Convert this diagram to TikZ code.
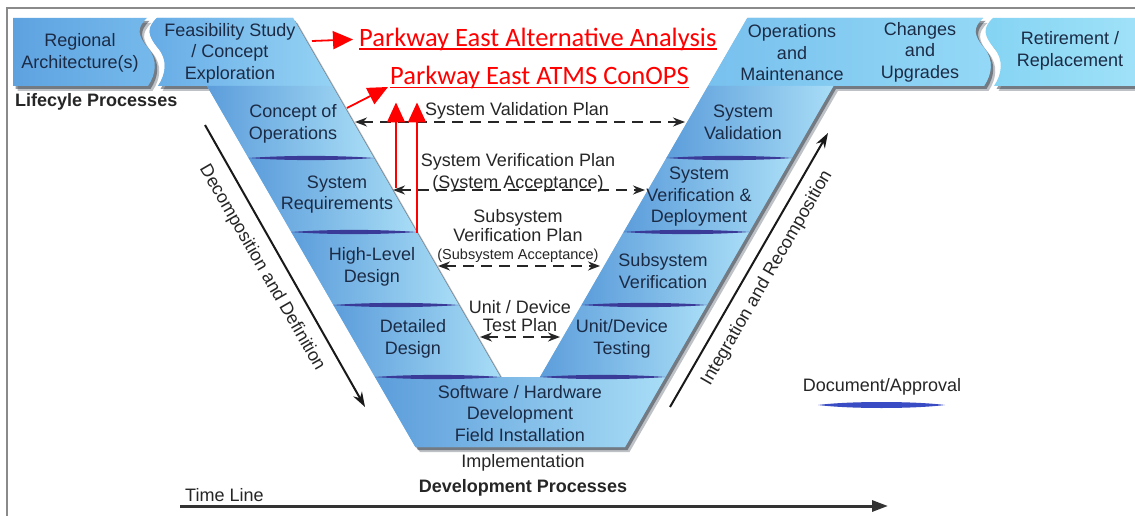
\documentclass[tikz,border=0pt]{standalone}
\usepackage{fontspec}
\setmainfont{Liberation Sans}
\newfontfamily\calfont{Carlito}
\usetikzlibrary{arrows.meta}

\definecolor{labc}{HTML}{1C2B45}
\definecolor{txtc}{HTML}{262626}
\definecolor{armL}{HTML}{5C9DDB}
\definecolor{armR}{HTML}{A8DDF6}
\definecolor{feaL}{HTML}{66ABE6}
\definecolor{feaR}{HTML}{95D3F4}
\definecolor{opsL}{HTML}{78C0EE}
\definecolor{opsR}{HTML}{94D9F6}
\definecolor{regL}{HTML}{5EA3E0}
\definecolor{regR}{HTML}{76BAEC}
\definecolor{retL}{HTML}{84D3F3}
\definecolor{retR}{HTML}{A0E2F8}
\definecolor{basec}{HTML}{7DBDEA}
\definecolor{sepc}{HTML}{3A3A98}
\definecolor{legc}{HTML}{3A4CC4}
\definecolor{shc}{HTML}{2A3440}
\definecolor{framec}{HTML}{8A8A8A}
\definecolor{redc}{HTML}{FF0000}

\newcommand\pathV{(157,18) -- (293,18) -- (500.3,377) -- (540,377) -- (747.3,18) -- (983,18) .. controls (972,28) and (974,36) .. (984,48) .. controls (994,60) and (992,74) .. (984,86) -- (833.4,86) -- (625,447) -- (415.4,447) -- (207,86) -- (158,86) .. controls (166,74) and (168,60) .. (158,48) .. controls (148,36) and (146,28) .. (157,18) -- cycle}
\newcommand\pathReg{(13,18) -- (147,18) .. controls (136,28) and (138,36) .. (148,48) .. controls (158,60) and (156,74) .. (148,86) -- (13,86) -- cycle}
\newcommand\pathRet{(993,18) -- (1140,18) -- (1140,86) -- (994,86) .. controls (1002,74) and (1004,60) .. (994,48) .. controls (984,36) and (982,28) .. (993,18) -- cycle}
\newcommand\vlens[3]{\fill[sepc] (#1,#3) .. controls ({#1+(#2-#1)*0.3},{#3-2.8}) and ({#2-(#2-#1)*0.3},{#3-2.8}) .. (#2,#3) .. controls ({#2-(#2-#1)*0.3},{#3+2.8}) and ({#1+(#2-#1)*0.3},{#3+2.8}) .. cycle;}

\begin{document}
\begin{tikzpicture}[x=1pt,y=-1pt,
  lab/.style={text=labc, font=\fontsize{18}{21.5}\selectfont, align=center, inner sep=0pt},
  plan/.style={text=txtc, font=\fontsize{18}{21.5}\selectfont, align=center, inner sep=0pt},
  band/.style={left color=armL, right color=armR},
  dplan/.style={draw=black!85, line width=1.8pt, dash pattern=on 11pt off 7pt,
    {Stealth[length=12pt,width=9pt]}-{Stealth[length=12pt,width=9pt]}},
  sarr/.style={draw=black!90, line width=2pt, -{Stealth[length=15pt,width=10pt]}},
  redarr/.style={draw=redc, line width=1.8pt, -{Triangle[length=20pt,width=18pt]}},
  redtxt/.style={text=redc, font=\calfont\fontsize{26.5}{30}\selectfont, inner sep=0pt}
]
\useasboundingbox (0,0) rectangle (1135,516);
\fill[white] (0,0) rectangle (1135,516);
\draw[framec, line width=1.5pt] (7,516) -- (7,8) -- (1135,8);

% shadows
\fill[shc, opacity=0.3, shift={(4.5,5)}] \pathV;
\fill[shc, opacity=0.5, shift={(2.5,3)}] \pathV;
\fill[shc, opacity=0.3, shift={(4.5,5)}] \pathReg;
\fill[shc, opacity=0.5, shift={(2.5,3)}] \pathReg;
\fill[shc, opacity=0.3, shift={(4.5,5)}] \pathRet;
\fill[shc, opacity=0.5, shift={(2.5,3)}] \pathRet;

% base
\fill[basec] \pathV;
\shade[left color=regL, right color=regR] \pathReg;
\shade[left color=retL, right color=retR] \pathRet;
\shade[left color=feaL, right color=feaR] (157,18) -- (293,18) -- (332.3,86) -- (158,86) .. controls (166,74) and (168,60) .. (158,48) .. controls (148,36) and (146,28) .. (157,18) -- cycle;
\shade[left color=opsL, right color=opsR] (747.3,18) -- (983,18) .. controls (972,28) and (974,36) .. (984,48) .. controls (994,60) and (992,74) .. (984,86) -- (708,86) -- cycle;

% left arm bands
\shade[band] (207,86) -- (332.3,86) -- (373.8,158) -- (248.6,158) -- cycle;
\shade[band] (248.6,158) -- (373.8,158) -- (416.6,232) -- (291.3,232) -- cycle;
\shade[band] (291.3,232) -- (416.6,232) -- (458.7,305) -- (333.4,305) -- cycle;
\shade[band] (333.4,305) -- (458.7,305) -- (500.3,377) -- (375,377) -- cycle;
% right arm bands
\shade[band] (708,86) -- (833.4,86) -- (791.9,158) -- (666.4,158) -- cycle;
\shade[band] (666.4,158) -- (791.9,158) -- (749.1,232) -- (623.7,232) -- cycle;
\shade[band] (623.7,232) -- (749.1,232) -- (707,305) -- (581.6,305) -- cycle;
\shade[band] (581.6,305) -- (707,305) -- (665.4,377) -- (540,377) -- cycle;
% bottom
\shade[band] (375,377) -- (665.4,377) -- (625,447) -- (415.4,447) -- cycle;

% separators
\vlens{248.6}{373.8}{158}
\vlens{291.3}{416.6}{232}
\vlens{333.4}{458.7}{305}
\vlens{375}{500.3}{377}
\vlens{666.4}{791.9}{158}
\vlens{623.7}{749.1}{232}
\vlens{581.6}{707}{305}
\vlens{540}{665.4}{377}
% legend lens
\fill[legc] (818,405) .. controls (850,401) and (913,401) .. (945,405) .. controls (913,409) and (850,409) .. cycle;

% labels
\node[lab] (reg) at (80,53) {Regional\\Architecture(s)};
\node[lab] (feas) at (230,53) {Feasibility Study\\/ Concept\\Exploration};
\node[lab] (ops) at (792,53) {Operations\\and\\Maintenance};
\node[lab] (chg) at (920,52) {Changes\\and\\Upgrades};
\node[lab] (ret) at (1070,51) {Retirement /\\Replacement};
\node[lab] (conops) at (293,124) {Concept of\\Operations};
\node[lab] (sysreq) at (337,194.5) {System\\Requirements};
\node[lab] (hld) at (372,267) {High-Level\\Design};
\node[lab] (dd) at (413,339) {Detailed\\Design};
\node[lab] (swhw) at (520,413.5) {Software / Hardware\\Development\\Field Installation};
\node[lab] (sysval) at (743,122.5) {System\\Validation};
\node[lab] (sysver) at (699,197) {System\\Verification \&\\Deployment};
\node[lab] (subver) at (663,271) {Subsystem\\Verification};
\node[lab] (unit) at (622,339) {Unit/Device\\Testing};

\node[plan] (impl) at (523,463) {Implementation};
\node[plan, font=\bfseries\fontsize{18}{21.5}\selectfont] (devp) at (523,488) {Development Processes};
\node[plan, font=\bfseries\fontsize{18}{21.5}\selectfont, anchor=west] (lcp) at (15,102) {Lifecyle Processes};
\node[plan, anchor=west] (tl) at (185,495) {Time Line};
\node[plan] (doc) at (882,387) {Document/Approval};
\node[plan] (svp) at (517,111) {System Validation Plan};
\node[plan] (sverp) at (518,173) {System Verification Plan\\(System Acceptance)};
\node[plan, font=\fontsize{18}{18.5}\selectfont] (ssvp) at (518,236) {Subsystem\\Verification Plan\\{\fontsize{14.5}{17}\selectfont(Subsystem Acceptance)}};
\node[plan, font=\fontsize{18}{18}\selectfont] (udtp) at (520,316) {Unit / Device\\Test Plan};

\node[plan, rotate=-60] (decomp) at (262,268) {Decomposition and Definition};
\node[plan, rotate=60] (integ) at (767,278) {Integration and Recomposition};

% dashed plan arrows
\coordinate (v1l) at (355,122); \coordinate (v1r) at (685,122);
\coordinate (v2l) at (393,190); \coordinate (v2r) at (645,190);
\coordinate (v3l) at (438,266); \coordinate (v3r) at (600,266);
\coordinate (v4l) at (480,337); \coordinate (v4r) at (560,337);
\draw[dplan] (v1l) -- (v1r);
\draw[dplan] (v2l) -- (v2r);
\draw[dplan] (v3l) -- (v3r);
\draw[dplan] (v4l) -- (v4r);

% side arrows
\coordinate (d1) at (205,125); \coordinate (d2) at (365,407);
\draw[sarr] (d1) -- (d2);
\coordinate (i1) at (670,407); \coordinate (i2) at (828,133);
\draw[sarr] (i1) -- (i2);
\coordinate (t1) at (180,506); \coordinate (t2) at (888,506);
\draw[draw=black!80, line width=3pt, -{Triangle[length=16pt,width=11pt]}] (t1) -- (t2);

% red annotations
\node[redtxt, anchor=base west] (pa) at (359,46.5) {Parkway East Alternative Analysis};
\node[redtxt, anchor=base west] (pb) at (390,85) {Parkway East ATMS ConOPS};
\draw[redc, line width=1.3pt] ([yshift=-2.5pt]pa.base west) -- ([yshift=-2.5pt]pa.base east);
\draw[redc, line width=1.3pt] ([yshift=-2.5pt]pb.base west) -- ([yshift=-2.5pt]pb.base east);
\coordinate (ra1) at (312,41);
\draw[redarr] (ra1) -- ([xshift=-6pt]pa.west);
\coordinate (ra2) at (347,108);
\draw[redarr] (ra2) -- ([xshift=-2pt,yshift=-2pt]pb.base west);
\coordinate (ra3) at (396,188);
\coordinate (ra4) at (417,233);
\draw[redarr, shorten >=13pt] (ra3) -- (ra3 |- pb.south);
\draw[redarr, shorten >=13pt] (ra4) -- (ra4 |- pb.south);
\end{tikzpicture}
\end{document}
